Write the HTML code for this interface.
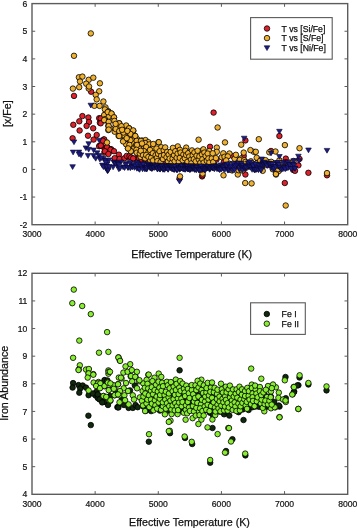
<!DOCTYPE html><html><head><meta charset="utf-8"><style>html,body{margin:0;padding:0;background:#fff;overflow:hidden}svg{display:block;will-change:transform}</style></head><body><svg width="357" height="528" viewBox="0 0 357 528"><style>.tk{font-family:"Liberation Sans",sans-serif;font-size:8.6px;fill:#111;stroke:#111;stroke-width:0.2px}.tt{font-family:"Liberation Sans",sans-serif;font-size:10.7px;fill:#111;stroke:#111;stroke-width:0.25px}.lg{font-family:"Liberation Sans",sans-serif;font-size:8.7px;fill:#111;stroke:#111;stroke-width:0.25px}.r{fill:#e0202a}.y{fill:#f0b030}.d{fill:#10280e}.l{fill:#88ee30}.r,.y,.d,.l{stroke:#000;stroke-width:0.8}.n{fill:#1c1c84;stroke:#060628;stroke-width:0.6}</style><rect width="357" height="528" fill="#fff"/><rect x="32.0" y="3.6" width="315.70" height="221.10" fill="none" stroke="#5c5c5c" stroke-width="1.4"/><path d="M95.14 224.7V221.5M95.14 3.6V6.800000000000001" stroke="#5c5c5c" stroke-width="1"/><path d="M158.28 224.7V221.5M158.28 3.6V6.800000000000001" stroke="#5c5c5c" stroke-width="1"/><path d="M221.42 224.7V221.5M221.42 3.6V6.800000000000001" stroke="#5c5c5c" stroke-width="1"/><path d="M284.56 224.7V221.5M284.56 3.6V6.800000000000001" stroke="#5c5c5c" stroke-width="1"/><path d="M32.0 31.24H35.2M347.7 31.24H344.5" stroke="#5c5c5c" stroke-width="1"/><path d="M32.0 58.88H35.2M347.7 58.88H344.5" stroke="#5c5c5c" stroke-width="1"/><path d="M32.0 86.51H35.2M347.7 86.51H344.5" stroke="#5c5c5c" stroke-width="1"/><path d="M32.0 114.15H35.2M347.7 114.15H344.5" stroke="#5c5c5c" stroke-width="1"/><path d="M32.0 141.79H35.2M347.7 141.79H344.5" stroke="#5c5c5c" stroke-width="1"/><path d="M32.0 169.42H35.2M347.7 169.42H344.5" stroke="#5c5c5c" stroke-width="1"/><path d="M32.0 197.06H35.2M347.7 197.06H344.5" stroke="#5c5c5c" stroke-width="1"/><text x="27.3" y="6.70" text-anchor="end" class="tk">6</text><text x="27.3" y="34.34" text-anchor="end" class="tk">5</text><text x="27.3" y="61.98" text-anchor="end" class="tk">4</text><text x="27.3" y="89.61" text-anchor="end" class="tk">3</text><text x="27.3" y="117.25" text-anchor="end" class="tk">2</text><text x="27.3" y="144.89" text-anchor="end" class="tk">1</text><text x="27.3" y="172.52" text-anchor="end" class="tk">0</text><text x="27.3" y="200.16" text-anchor="end" class="tk">-1</text><text x="27.3" y="227.80" text-anchor="end" class="tk">-2</text><text x="32.00" y="237.4" text-anchor="middle" class="tk">3000</text><text x="95.14" y="237.4" text-anchor="middle" class="tk">4000</text><text x="158.28" y="237.4" text-anchor="middle" class="tk">5000</text><text x="221.42" y="237.4" text-anchor="middle" class="tk">6000</text><text x="284.56" y="237.4" text-anchor="middle" class="tk">7000</text><text x="347.70" y="237.4" text-anchor="middle" class="tk">8000</text><text x="131.3" y="257.6" class="tt">Effective Temperature (K)</text><text transform="translate(10.5,113.6) rotate(-90)" text-anchor="middle" class="tt">[x/Fe]</text><rect x="32.0" y="273.3" width="315.70" height="221.00" fill="none" stroke="#5c5c5c" stroke-width="1.4"/><path d="M95.14 494.3V491.1M95.14 273.3V276.5" stroke="#5c5c5c" stroke-width="1"/><path d="M158.28 494.3V491.1M158.28 273.3V276.5" stroke="#5c5c5c" stroke-width="1"/><path d="M221.42 494.3V491.1M221.42 273.3V276.5" stroke="#5c5c5c" stroke-width="1"/><path d="M284.56 494.3V491.1M284.56 273.3V276.5" stroke="#5c5c5c" stroke-width="1"/><path d="M32.0 300.93H35.2M347.7 300.93H344.5" stroke="#5c5c5c" stroke-width="1"/><path d="M32.0 328.55H35.2M347.7 328.55H344.5" stroke="#5c5c5c" stroke-width="1"/><path d="M32.0 356.18H35.2M347.7 356.18H344.5" stroke="#5c5c5c" stroke-width="1"/><path d="M32.0 383.80H35.2M347.7 383.80H344.5" stroke="#5c5c5c" stroke-width="1"/><path d="M32.0 411.43H35.2M347.7 411.43H344.5" stroke="#5c5c5c" stroke-width="1"/><path d="M32.0 439.05H35.2M347.7 439.05H344.5" stroke="#5c5c5c" stroke-width="1"/><path d="M32.0 466.68H35.2M347.7 466.68H344.5" stroke="#5c5c5c" stroke-width="1"/><text x="27.3" y="276.40" text-anchor="end" class="tk">12</text><text x="27.3" y="304.03" text-anchor="end" class="tk">11</text><text x="27.3" y="331.65" text-anchor="end" class="tk">10</text><text x="27.3" y="359.28" text-anchor="end" class="tk">9</text><text x="27.3" y="386.90" text-anchor="end" class="tk">8</text><text x="27.3" y="414.53" text-anchor="end" class="tk">7</text><text x="27.3" y="442.15" text-anchor="end" class="tk">6</text><text x="27.3" y="469.78" text-anchor="end" class="tk">5</text><text x="27.3" y="497.40" text-anchor="end" class="tk">4</text><text x="32.00" y="507.0" text-anchor="middle" class="tk">3000</text><text x="95.14" y="507.0" text-anchor="middle" class="tk">4000</text><text x="158.28" y="507.0" text-anchor="middle" class="tk">5000</text><text x="221.42" y="507.0" text-anchor="middle" class="tk">6000</text><text x="284.56" y="507.0" text-anchor="middle" class="tk">7000</text><text x="347.70" y="507.0" text-anchor="middle" class="tk">8000</text><text x="129.1" y="525.7" class="tt">Effective Temperature (K)</text><text transform="translate(8.2,383.2) rotate(-90)" text-anchor="middle" class="tt">Iron Abundance</text><circle cx="99.6" cy="145.8" r="2.75" class="r"/><circle cx="103.8" cy="139.6" r="2.75" class="r"/><circle cx="106.8" cy="147.2" r="2.75" class="r"/><circle cx="110.0" cy="149.1" r="2.75" class="r"/><circle cx="104.9" cy="151.4" r="2.75" class="r"/><circle cx="108.8" cy="152.5" r="2.75" class="r"/><circle cx="74.0" cy="95.9" r="2.75" class="r"/><circle cx="91.1" cy="91.7" r="2.75" class="r"/><circle cx="82.4" cy="116.1" r="2.75" class="r"/><circle cx="88.4" cy="117.5" r="2.75" class="r"/><circle cx="79.3" cy="121.3" r="2.75" class="r"/><circle cx="89.0" cy="122.0" r="2.75" class="r"/><circle cx="99.2" cy="118.2" r="2.75" class="r"/><circle cx="99.9" cy="122.7" r="2.75" class="r"/><circle cx="73.3" cy="124.8" r="2.75" class="r"/><circle cx="86.6" cy="125.9" r="2.75" class="r"/><circle cx="93.2" cy="128.3" r="2.75" class="r"/><circle cx="79.6" cy="130.5" r="2.75" class="r"/><circle cx="88.0" cy="135.7" r="2.75" class="r"/><circle cx="96.7" cy="135.0" r="2.75" class="r"/><circle cx="72.6" cy="138.3" r="2.75" class="r"/><circle cx="93.6" cy="139.6" r="2.75" class="r"/><circle cx="99.2" cy="146.2" r="2.75" class="r"/><circle cx="104.5" cy="148.3" r="2.75" class="r"/><circle cx="106.9" cy="151.8" r="2.75" class="r"/><circle cx="104.5" cy="152.5" r="2.75" class="r"/><circle cx="100.7" cy="118.4" r="2.75" class="r"/><circle cx="100.7" cy="123.3" r="2.75" class="r"/><circle cx="104.2" cy="139.4" r="2.75" class="r"/><circle cx="101.4" cy="145.7" r="2.75" class="r"/><circle cx="107.0" cy="147.1" r="2.75" class="r"/><circle cx="111.2" cy="149.2" r="2.75" class="r"/><circle cx="102.8" cy="140.7" r="2.75" class="r"/><circle cx="100.7" cy="145.6" r="2.75" class="r"/><circle cx="107.0" cy="147.0" r="2.75" class="r"/><circle cx="110.5" cy="149.8" r="2.75" class="r"/><circle cx="114.0" cy="151.2" r="2.75" class="r"/><circle cx="104.9" cy="151.2" r="2.75" class="r"/><circle cx="108.4" cy="154.0" r="2.75" class="r"/><circle cx="118.9" cy="154.7" r="2.75" class="r"/><circle cx="114.7" cy="158.2" r="2.75" class="r"/><circle cx="119.6" cy="158.9" r="2.75" class="r"/><circle cx="124.5" cy="158.2" r="2.75" class="r"/><circle cx="128.7" cy="157.5" r="2.75" class="r"/><circle cx="133.6" cy="158.9" r="2.75" class="r"/><circle cx="137.1" cy="157.5" r="2.75" class="r"/><circle cx="140.6" cy="153.3" r="2.75" class="r"/><circle cx="144.8" cy="160.3" r="2.75" class="r"/><circle cx="148.3" cy="161.0" r="2.75" class="r"/><circle cx="150.0" cy="161.0" r="2.75" class="r"/><circle cx="189.9" cy="152.6" r="2.75" class="r"/><circle cx="179.5" cy="178.6" r="2.75" class="r"/><circle cx="202.1" cy="176.4" r="2.75" class="r"/><circle cx="213.6" cy="112.6" r="2.75" class="r"/><circle cx="210.0" cy="146.8" r="2.75" class="r"/><circle cx="245.4" cy="140.4" r="2.75" class="r"/><circle cx="232.8" cy="156.0" r="2.75" class="r"/><circle cx="243.7" cy="156.0" r="2.75" class="r"/><circle cx="202.5" cy="175.3" r="2.75" class="r"/><circle cx="245.4" cy="174.5" r="2.75" class="r"/><circle cx="279.4" cy="136.0" r="2.75" class="r"/><circle cx="271.0" cy="151.0" r="2.75" class="r"/><circle cx="285.8" cy="158.6" r="2.75" class="r"/><circle cx="299.5" cy="158.9" r="2.75" class="r"/><circle cx="298.4" cy="165.3" r="2.75" class="r"/><circle cx="286.1" cy="165.3" r="2.75" class="r"/><circle cx="293.3" cy="170.0" r="2.75" class="r"/><circle cx="308.4" cy="172.8" r="2.75" class="r"/><circle cx="327.0" cy="175.3" r="2.75" class="r"/><circle cx="284.8" cy="183.0" r="2.75" class="r"/><circle cx="295.0" cy="170.8" r="2.75" class="r"/><circle cx="126.7" cy="155.9" r="2.75" class="r"/><circle cx="129.5" cy="156.2" r="2.75" class="r"/><circle cx="131.1" cy="157.5" r="2.75" class="r"/><circle cx="133.2" cy="158.4" r="2.75" class="r"/><circle cx="138.9" cy="158.0" r="2.75" class="r"/><circle cx="139.1" cy="158.1" r="2.75" class="r"/><circle cx="141.6" cy="159.4" r="2.75" class="r"/><circle cx="144.1" cy="158.4" r="2.75" class="r"/><circle cx="150.8" cy="162.0" r="2.75" class="r"/><circle cx="151.6" cy="161.1" r="2.75" class="r"/><circle cx="155.0" cy="159.2" r="2.75" class="r"/><circle cx="157.5" cy="158.8" r="2.75" class="r"/><circle cx="162.7" cy="161.7" r="2.75" class="r"/><circle cx="169.7" cy="162.0" r="2.75" class="r"/><circle cx="172.4" cy="162.2" r="2.75" class="r"/><circle cx="173.5" cy="159.7" r="2.75" class="r"/><circle cx="174.1" cy="162.7" r="2.75" class="r"/><circle cx="175.2" cy="160.8" r="2.75" class="r"/><circle cx="177.4" cy="161.6" r="2.75" class="r"/><circle cx="181.4" cy="160.7" r="2.75" class="r"/><circle cx="184.2" cy="160.1" r="2.75" class="r"/><circle cx="185.5" cy="162.0" r="2.75" class="r"/><circle cx="186.0" cy="161.1" r="2.75" class="r"/><circle cx="194.9" cy="163.0" r="2.75" class="r"/><circle cx="199.6" cy="159.5" r="2.75" class="r"/><circle cx="200.2" cy="160.0" r="2.75" class="r"/><circle cx="202.0" cy="160.0" r="2.75" class="r"/><circle cx="203.4" cy="159.4" r="2.75" class="r"/><circle cx="206.3" cy="161.0" r="2.75" class="r"/><circle cx="208.8" cy="164.3" r="2.75" class="r"/><circle cx="211.1" cy="161.1" r="2.75" class="r"/><circle cx="214.0" cy="164.2" r="2.75" class="r"/><circle cx="216.5" cy="159.6" r="2.75" class="r"/><circle cx="223.8" cy="162.2" r="2.75" class="r"/><circle cx="236.0" cy="161.1" r="2.75" class="r"/><circle cx="247.2" cy="163.0" r="2.75" class="r"/><circle cx="253.7" cy="164.5" r="2.75" class="r"/><circle cx="257.8" cy="161.7" r="2.75" class="r"/><circle cx="264.1" cy="160.9" r="2.75" class="r"/><circle cx="267.8" cy="165.1" r="2.75" class="r"/><circle cx="271.0" cy="165.1" r="2.75" class="r"/><circle cx="285.9" cy="162.2" r="2.75" class="r"/><circle cx="90.8" cy="33.4" r="2.75" class="y"/><circle cx="74.0" cy="55.8" r="2.75" class="y"/><circle cx="78.9" cy="77.3" r="2.75" class="y"/><circle cx="82.4" cy="76.6" r="2.75" class="y"/><circle cx="80.0" cy="81.5" r="2.75" class="y"/><circle cx="88.7" cy="79.8" r="2.75" class="y"/><circle cx="93.3" cy="77.7" r="2.75" class="y"/><circle cx="86.2" cy="83.7" r="2.75" class="y"/><circle cx="99.9" cy="83.3" r="2.75" class="y"/><circle cx="79.2" cy="87.2" r="2.75" class="y"/><circle cx="72.9" cy="88.6" r="2.75" class="y"/><circle cx="88.7" cy="88.5" r="2.75" class="y"/><circle cx="89.0" cy="86.5" r="2.75" class="y"/><circle cx="99.2" cy="91.3" r="2.75" class="y"/><circle cx="95.7" cy="94.9" r="2.75" class="y"/><circle cx="96.7" cy="99.4" r="2.75" class="y"/><circle cx="103.4" cy="101.5" r="2.75" class="y"/><circle cx="94.4" cy="105.8" r="2.75" class="y"/><circle cx="99.6" cy="105.9" r="2.75" class="y"/><circle cx="105.5" cy="107.4" r="2.75" class="y"/><circle cx="108.3" cy="111.2" r="2.75" class="y"/><circle cx="104.8" cy="115.1" r="2.75" class="y"/><circle cx="108.3" cy="116.1" r="2.75" class="y"/><circle cx="104.8" cy="120.3" r="2.75" class="y"/><circle cx="108.3" cy="121.7" r="2.75" class="y"/><circle cx="108.3" cy="125.9" r="2.75" class="y"/><circle cx="108.3" cy="130.1" r="2.75" class="y"/><circle cx="104.9" cy="109.4" r="2.75" class="y"/><circle cx="108.0" cy="111.9" r="2.75" class="y"/><circle cx="111.5" cy="113.6" r="2.75" class="y"/><circle cx="104.2" cy="115.0" r="2.75" class="y"/><circle cx="108.7" cy="116.7" r="2.75" class="y"/><circle cx="114.0" cy="117.5" r="2.75" class="y"/><circle cx="104.9" cy="119.2" r="2.75" class="y"/><circle cx="107.7" cy="112.1" r="2.75" class="y"/><circle cx="111.5" cy="113.5" r="2.75" class="y"/><circle cx="114.0" cy="117.3" r="2.75" class="y"/><circle cx="104.2" cy="120.1" r="2.75" class="y"/><circle cx="108.7" cy="121.9" r="2.75" class="y"/><circle cx="119.3" cy="123.3" r="2.75" class="y"/><circle cx="108.7" cy="126.1" r="2.75" class="y"/><circle cx="108.7" cy="129.6" r="2.75" class="y"/><circle cx="114.7" cy="127.9" r="2.75" class="y"/><circle cx="118.2" cy="128.2" r="2.75" class="y"/><circle cx="125.9" cy="126.5" r="2.75" class="y"/><circle cx="129.1" cy="128.2" r="2.75" class="y"/><circle cx="114.7" cy="131.7" r="2.75" class="y"/><circle cx="119.6" cy="131.7" r="2.75" class="y"/><circle cx="123.8" cy="132.4" r="2.75" class="y"/><circle cx="133.3" cy="131.0" r="2.75" class="y"/><circle cx="118.6" cy="135.9" r="2.75" class="y"/><circle cx="124.5" cy="135.9" r="2.75" class="y"/><circle cx="130.1" cy="135.2" r="2.75" class="y"/><circle cx="135.0" cy="135.9" r="2.75" class="y"/><circle cx="123.8" cy="140.8" r="2.75" class="y"/><circle cx="130.1" cy="140.1" r="2.75" class="y"/><circle cx="133.6" cy="139.4" r="2.75" class="y"/><circle cx="137.1" cy="139.1" r="2.75" class="y"/><circle cx="142.0" cy="140.5" r="2.75" class="y"/><circle cx="145.5" cy="140.1" r="2.75" class="y"/><circle cx="126.6" cy="144.3" r="2.75" class="y"/><circle cx="130.1" cy="144.7" r="2.75" class="y"/><circle cx="133.6" cy="143.6" r="2.75" class="y"/><circle cx="137.1" cy="145.7" r="2.75" class="y"/><circle cx="141.3" cy="143.6" r="2.75" class="y"/><circle cx="144.8" cy="143.6" r="2.75" class="y"/><circle cx="148.3" cy="142.2" r="2.75" class="y"/><circle cx="128.0" cy="148.5" r="2.75" class="y"/><circle cx="133.6" cy="148.5" r="2.75" class="y"/><circle cx="139.2" cy="147.8" r="2.75" class="y"/><circle cx="143.4" cy="148.5" r="2.75" class="y"/><circle cx="148.3" cy="147.1" r="2.75" class="y"/><circle cx="107.0" cy="142.5" r="2.75" class="y"/><circle cx="119.2" cy="123.4" r="2.75" class="y"/><circle cx="126.2" cy="125.5" r="2.75" class="y"/><circle cx="129.0" cy="128.3" r="2.75" class="y"/><circle cx="133.2" cy="130.4" r="2.75" class="y"/><circle cx="115.7" cy="129.0" r="2.75" class="y"/><circle cx="119.2" cy="131.1" r="2.75" class="y"/><circle cx="123.4" cy="132.5" r="2.75" class="y"/><circle cx="119.2" cy="136.0" r="2.75" class="y"/><circle cx="130.4" cy="133.9" r="2.75" class="y"/><circle cx="135.3" cy="136.0" r="2.75" class="y"/><circle cx="123.4" cy="140.9" r="2.75" class="y"/><circle cx="130.4" cy="140.2" r="2.75" class="y"/><circle cx="136.7" cy="140.9" r="2.75" class="y"/><circle cx="140.9" cy="140.9" r="2.75" class="y"/><circle cx="145.1" cy="143.0" r="2.75" class="y"/><circle cx="149.3" cy="144.4" r="2.75" class="y"/><circle cx="158.4" cy="142.3" r="2.75" class="y"/><circle cx="126.2" cy="144.4" r="2.75" class="y"/><circle cx="129.0" cy="147.9" r="2.75" class="y"/><circle cx="136.0" cy="145.1" r="2.75" class="y"/><circle cx="138.8" cy="147.9" r="2.75" class="y"/><circle cx="143.7" cy="150.7" r="2.75" class="y"/><circle cx="152.8" cy="147.9" r="2.75" class="y"/><circle cx="161.2" cy="147.2" r="2.75" class="y"/><circle cx="131.1" cy="151.4" r="2.75" class="y"/><circle cx="155.6" cy="152.1" r="2.75" class="y"/><circle cx="150.0" cy="152.8" r="2.75" class="y"/><circle cx="123.1" cy="141.4" r="2.75" class="y"/><circle cx="129.4" cy="144.9" r="2.75" class="y"/><circle cx="137.1" cy="144.9" r="2.75" class="y"/><circle cx="142.0" cy="143.5" r="2.75" class="y"/><circle cx="146.2" cy="147.0" r="2.75" class="y"/><circle cx="130.8" cy="151.2" r="2.75" class="y"/><circle cx="136.4" cy="149.8" r="2.75" class="y"/><circle cx="144.1" cy="151.2" r="2.75" class="y"/><circle cx="140.6" cy="156.8" r="2.75" class="y"/><circle cx="128.0" cy="148.4" r="2.75" class="y"/><circle cx="148.3" cy="152.6" r="2.75" class="y"/><circle cx="158.8" cy="142.2" r="2.75" class="y"/><circle cx="177.8" cy="146.4" r="2.75" class="y"/><circle cx="186.2" cy="147.6" r="2.75" class="y"/><circle cx="198.6" cy="139.7" r="2.75" class="y"/><circle cx="203.0" cy="150.0" r="2.75" class="y"/><circle cx="217.6" cy="127.5" r="2.75" class="y"/><circle cx="225.0" cy="142.4" r="2.75" class="y"/><circle cx="241.2" cy="144.7" r="2.75" class="y"/><circle cx="258.8" cy="139.2" r="2.75" class="y"/><circle cx="216.8" cy="147.6" r="2.75" class="y"/><circle cx="216.8" cy="151.8" r="2.75" class="y"/><circle cx="203.4" cy="149.3" r="2.75" class="y"/><circle cx="209.2" cy="151.0" r="2.75" class="y"/><circle cx="229.4" cy="153.5" r="2.75" class="y"/><circle cx="243.7" cy="152.6" r="2.75" class="y"/><circle cx="253.8" cy="151.8" r="2.75" class="y"/><circle cx="250.4" cy="150.1" r="2.75" class="y"/><circle cx="223.5" cy="175.3" r="2.75" class="y"/><circle cx="237.8" cy="174.5" r="2.75" class="y"/><circle cx="245.2" cy="183.0" r="2.75" class="y"/><circle cx="251.6" cy="183.4" r="2.75" class="y"/><circle cx="284.9" cy="145.1" r="2.75" class="y"/><circle cx="299.5" cy="148.2" r="2.75" class="y"/><circle cx="255.8" cy="151.8" r="2.75" class="y"/><circle cx="275.5" cy="151.5" r="2.75" class="y"/><circle cx="279.4" cy="160.3" r="2.75" class="y"/><circle cx="281.9" cy="165.3" r="2.75" class="y"/><circle cx="276.0" cy="174.5" r="2.75" class="y"/><circle cx="278.5" cy="171.2" r="2.75" class="y"/><circle cx="256.7" cy="157.7" r="2.75" class="y"/><circle cx="327.0" cy="173.1" r="2.75" class="y"/><circle cx="202.6" cy="173.5" r="2.75" class="y"/><circle cx="285.7" cy="205.5" r="2.75" class="y"/><circle cx="180.0" cy="176.4" r="2.75" class="y"/><circle cx="275.9" cy="174.0" r="2.75" class="y"/><circle cx="114.4" cy="120.9" r="2.75" class="y"/><circle cx="115.6" cy="123.9" r="2.75" class="y"/><circle cx="121.4" cy="126.2" r="2.75" class="y"/><circle cx="122.1" cy="129.8" r="2.75" class="y"/><circle cx="126.7" cy="138.2" r="2.75" class="y"/><circle cx="127.3" cy="130.9" r="2.75" class="y"/><circle cx="136.7" cy="152.7" r="2.75" class="y"/><circle cx="139.8" cy="153.5" r="2.75" class="y"/><circle cx="140.8" cy="150.8" r="2.75" class="y"/><circle cx="143.0" cy="155.2" r="2.75" class="y"/><circle cx="145.2" cy="158.3" r="2.75" class="y"/><circle cx="146.2" cy="155.1" r="2.75" class="y"/><circle cx="148.4" cy="156.9" r="2.75" class="y"/><circle cx="150.0" cy="149.9" r="2.75" class="y"/><circle cx="150.3" cy="160.7" r="2.75" class="y"/><circle cx="151.2" cy="157.7" r="2.75" class="y"/><circle cx="152.8" cy="153.3" r="2.75" class="y"/><circle cx="153.2" cy="144.0" r="2.75" class="y"/><circle cx="153.1" cy="160.4" r="2.75" class="y"/><circle cx="155.6" cy="155.2" r="2.75" class="y"/><circle cx="156.5" cy="148.5" r="2.75" class="y"/><circle cx="156.8" cy="158.0" r="2.75" class="y"/><circle cx="157.4" cy="161.1" r="2.75" class="y"/><circle cx="158.1" cy="153.9" r="2.75" class="y"/><circle cx="159.6" cy="151.3" r="2.75" class="y"/><circle cx="160.6" cy="162.1" r="2.75" class="y"/><circle cx="161.1" cy="155.9" r="2.75" class="y"/><circle cx="162.9" cy="159.0" r="2.75" class="y"/><circle cx="163.7" cy="150.2" r="2.75" class="y"/><circle cx="164.0" cy="155.0" r="2.75" class="y"/><circle cx="165.2" cy="147.4" r="2.75" class="y"/><circle cx="166.5" cy="157.2" r="2.75" class="y"/><circle cx="167.2" cy="151.9" r="2.75" class="y"/><circle cx="168.0" cy="161.5" r="2.75" class="y"/><circle cx="168.7" cy="154.7" r="2.75" class="y"/><circle cx="169.7" cy="158.6" r="2.75" class="y"/><circle cx="170.7" cy="151.8" r="2.75" class="y"/><circle cx="171.6" cy="162.9" r="2.75" class="y"/><circle cx="172.9" cy="147.9" r="2.75" class="y"/><circle cx="172.6" cy="158.6" r="2.75" class="y"/><circle cx="174.0" cy="155.2" r="2.75" class="y"/><circle cx="174.7" cy="161.3" r="2.75" class="y"/><circle cx="175.3" cy="151.2" r="2.75" class="y"/><circle cx="176.7" cy="157.8" r="2.75" class="y"/><circle cx="177.6" cy="153.6" r="2.75" class="y"/><circle cx="178.8" cy="161.8" r="2.75" class="y"/><circle cx="179.9" cy="149.8" r="2.75" class="y"/><circle cx="179.8" cy="157.9" r="2.75" class="y"/><circle cx="180.6" cy="152.6" r="2.75" class="y"/><circle cx="182.7" cy="160.3" r="2.75" class="y"/><circle cx="183.4" cy="154.5" r="2.75" class="y"/><circle cx="184.8" cy="158.2" r="2.75" class="y"/><circle cx="185.3" cy="150.8" r="2.75" class="y"/><circle cx="186.2" cy="155.1" r="2.75" class="y"/><circle cx="187.5" cy="161.8" r="2.75" class="y"/><circle cx="188.2" cy="153.2" r="2.75" class="y"/><circle cx="189.3" cy="156.5" r="2.75" class="y"/><circle cx="191.0" cy="159.5" r="2.75" class="y"/><circle cx="192.0" cy="150.4" r="2.75" class="y"/><circle cx="191.4" cy="163.3" r="2.75" class="y"/><circle cx="192.7" cy="155.3" r="2.75" class="y"/><circle cx="193.8" cy="159.1" r="2.75" class="y"/><circle cx="194.4" cy="152.4" r="2.75" class="y"/><circle cx="195.7" cy="161.4" r="2.75" class="y"/><circle cx="196.6" cy="155.7" r="2.75" class="y"/><circle cx="197.6" cy="150.7" r="2.75" class="y"/><circle cx="198.8" cy="159.5" r="2.75" class="y"/><circle cx="199.4" cy="156.3" r="2.75" class="y"/><circle cx="200.4" cy="162.8" r="2.75" class="y"/><circle cx="202.0" cy="154.5" r="2.75" class="y"/><circle cx="202.4" cy="159.3" r="2.75" class="y"/><circle cx="203.7" cy="162.6" r="2.75" class="y"/><circle cx="204.4" cy="152.6" r="2.75" class="y"/><circle cx="205.6" cy="156.1" r="2.75" class="y"/><circle cx="206.8" cy="160.9" r="2.75" class="y"/><circle cx="207.7" cy="153.6" r="2.75" class="y"/><circle cx="208.4" cy="158.5" r="2.75" class="y"/><circle cx="209.4" cy="162.5" r="2.75" class="y"/><circle cx="211.8" cy="158.4" r="2.75" class="y"/><circle cx="212.7" cy="153.3" r="2.75" class="y"/><circle cx="213.2" cy="162.1" r="2.75" class="y"/><circle cx="215.9" cy="158.1" r="2.75" class="y"/><circle cx="221.7" cy="157.2" r="2.75" class="y"/><circle cx="223.3" cy="153.3" r="2.75" class="y"/><circle cx="224.5" cy="156.8" r="2.75" class="y"/><circle cx="227.8" cy="156.4" r="2.75" class="y"/><circle cx="234.6" cy="158.7" r="2.75" class="y"/><circle cx="235.9" cy="154.8" r="2.75" class="y"/><circle cx="240.7" cy="158.6" r="2.75" class="y"/><circle cx="267.7" cy="162.0" r="2.75" class="y"/><circle cx="269.3" cy="152.3" r="2.75" class="y"/><circle cx="288.8" cy="163.7" r="2.75" class="y"/><circle cx="226.2" cy="160.4" r="2.75" class="y"/><circle cx="228.9" cy="168.0" r="2.75" class="y"/><circle cx="229.7" cy="163.8" r="2.75" class="y"/><circle cx="232.1" cy="170.4" r="2.75" class="y"/><circle cx="233.9" cy="167.4" r="2.75" class="y"/><circle cx="237.1" cy="167.5" r="2.75" class="y"/><circle cx="238.5" cy="170.2" r="2.75" class="y"/><circle cx="239.8" cy="159.9" r="2.75" class="y"/><circle cx="242.5" cy="170.6" r="2.75" class="y"/><circle cx="244.2" cy="160.2" r="2.75" class="y"/><circle cx="245.4" cy="161.9" r="2.75" class="y"/><circle cx="246.1" cy="167.7" r="2.75" class="y"/><circle cx="248.2" cy="165.5" r="2.75" class="y"/><circle cx="249.9" cy="163.7" r="2.75" class="y"/><circle cx="250.9" cy="161.3" r="2.75" class="y"/><circle cx="252.8" cy="165.9" r="2.75" class="y"/><circle cx="254.7" cy="166.5" r="2.75" class="y"/><circle cx="255.8" cy="169.1" r="2.75" class="y"/><circle cx="256.3" cy="163.9" r="2.75" class="y"/><circle cx="257.1" cy="163.0" r="2.75" class="y"/><circle cx="258.7" cy="164.9" r="2.75" class="y"/><circle cx="259.3" cy="165.1" r="2.75" class="y"/><circle cx="260.2" cy="160.8" r="2.75" class="y"/><circle cx="262.0" cy="168.3" r="2.75" class="y"/><circle cx="262.7" cy="170.8" r="2.75" class="y"/><circle cx="264.5" cy="164.8" r="2.75" class="y"/><circle cx="265.5" cy="160.2" r="2.75" class="y"/><circle cx="271.2" cy="161.8" r="2.75" class="y"/><circle cx="272.8" cy="169.3" r="2.75" class="y"/><circle cx="273.2" cy="167.2" r="2.75" class="y"/><circle cx="276.8" cy="169.2" r="2.75" class="y"/><circle cx="278.2" cy="169.2" r="2.75" class="y"/><circle cx="279.4" cy="166.3" r="2.75" class="y"/><circle cx="280.8" cy="163.1" r="2.75" class="y"/><circle cx="281.6" cy="167.1" r="2.75" class="y"/><circle cx="288.3" cy="166.7" r="2.75" class="y"/><circle cx="289.7" cy="162.5" r="2.75" class="y"/><circle cx="292.0" cy="165.3" r="2.75" class="y"/><circle cx="293.7" cy="161.0" r="2.75" class="y"/><path d="M88.0 103.2h5.6l-2.8 4.8z" class="n"/><path d="M71.2 139.9h5.6l-2.8 4.8z" class="n"/><path d="M85.9 141.7h5.6l-2.8 4.8z" class="n"/><path d="M70.3 150.1h5.6l-2.8 4.8z" class="n"/><path d="M76.1 150.1h5.6l-2.8 4.8z" class="n"/><path d="M78.2 152.9h5.6l-2.8 4.8z" class="n"/><path d="M83.1 145.9h5.6l-2.8 4.8z" class="n"/><path d="M85.9 147.3h5.6l-2.8 4.8z" class="n"/><path d="M90.8 148.0h5.6l-2.8 4.8z" class="n"/><path d="M85.2 153.6h5.6l-2.8 4.8z" class="n"/><path d="M90.8 153.6h5.6l-2.8 4.8z" class="n"/><path d="M94.3 150.8h5.6l-2.8 4.8z" class="n"/><path d="M96.4 153.6h5.6l-2.8 4.8z" class="n"/><path d="M92.9 156.4h5.6l-2.8 4.8z" class="n"/><path d="M97.1 157.1h5.6l-2.8 4.8z" class="n"/><path d="M100.6 156.4h5.6l-2.8 4.8z" class="n"/><path d="M103.4 158.5h5.6l-2.8 4.8z" class="n"/><path d="M69.8 164.7h5.6l-2.8 4.8z" class="n"/><path d="M103.4 166.2h5.6l-2.8 4.8z" class="n"/><path d="M104.8 169.0h5.6l-2.8 4.8z" class="n"/><path d="M96.4 138.2h5.6l-2.8 4.8z" class="n"/><path d="M76.2 152.1h5.6l-2.8 4.8z" class="n"/><path d="M104.6 168.2h5.6l-2.8 4.8z" class="n"/><path d="M98.6 155.8h5.6l-2.8 4.8z" class="n"/><path d="M102.8 158.6h5.6l-2.8 4.8z" class="n"/><path d="M106.3 157.9h5.6l-2.8 4.8z" class="n"/><path d="M104.2 162.1h5.6l-2.8 4.8z" class="n"/><path d="M103.5 166.3h5.6l-2.8 4.8z" class="n"/><path d="M105.6 167.7h5.6l-2.8 4.8z" class="n"/><path d="M111.2 160.0h5.6l-2.8 4.8z" class="n"/><path d="M114.0 162.8h5.6l-2.8 4.8z" class="n"/><path d="M116.1 167.0h5.6l-2.8 4.8z" class="n"/><path d="M118.2 160.0h5.6l-2.8 4.8z" class="n"/><path d="M120.3 164.9h5.6l-2.8 4.8z" class="n"/><path d="M123.1 161.4h5.6l-2.8 4.8z" class="n"/><path d="M125.2 165.6h5.6l-2.8 4.8z" class="n"/><path d="M127.3 160.7h5.6l-2.8 4.8z" class="n"/><path d="M130.8 163.5h5.6l-2.8 4.8z" class="n"/><path d="M134.3 160.7h5.6l-2.8 4.8z" class="n"/><path d="M135.0 165.6h5.6l-2.8 4.8z" class="n"/><path d="M139.2 162.1h5.6l-2.8 4.8z" class="n"/><path d="M142.0 165.6h5.6l-2.8 4.8z" class="n"/><path d="M145.5 162.1h5.6l-2.8 4.8z" class="n"/><path d="M176.7 179.2h5.6l-2.8 4.8z" class="n"/><path d="M241.4 136.2h5.6l-2.8 4.8z" class="n"/><path d="M276.6 129.3h5.6l-2.8 4.8z" class="n"/><path d="M268.2 151.1h5.6l-2.8 4.8z" class="n"/><path d="M276.6 154.5h5.6l-2.8 4.8z" class="n"/><path d="M295.6 154.2h5.6l-2.8 4.8z" class="n"/><path d="M296.2 158.7h5.6l-2.8 4.8z" class="n"/><path d="M290.9 158.7h5.6l-2.8 4.8z" class="n"/><path d="M283.3 166.3h5.6l-2.8 4.8z" class="n"/><path d="M290.0 166.6h5.6l-2.8 4.8z" class="n"/><path d="M305.7 148.0h5.6l-2.8 4.8z" class="n"/><path d="M324.2 148.4h5.6l-2.8 4.8z" class="n"/><path d="M258.9 157.0h5.6l-2.8 4.8z" class="n"/><path d="M99.5 163.1h5.6l-2.8 4.8z" class="n"/><path d="M100.6 164.8h5.6l-2.8 4.8z" class="n"/><path d="M102.8 160.2h5.6l-2.8 4.8z" class="n"/><path d="M104.0 164.4h5.6l-2.8 4.8z" class="n"/><path d="M106.6 164.6h5.6l-2.8 4.8z" class="n"/><path d="M110.3 165.0h5.6l-2.8 4.8z" class="n"/><path d="M111.4 160.6h5.6l-2.8 4.8z" class="n"/><path d="M112.9 161.4h5.6l-2.8 4.8z" class="n"/><path d="M115.1 161.6h5.6l-2.8 4.8z" class="n"/><path d="M115.9 162.4h5.6l-2.8 4.8z" class="n"/><path d="M117.3 166.1h5.6l-2.8 4.8z" class="n"/><path d="M121.8 165.7h5.6l-2.8 4.8z" class="n"/><path d="M123.1 162.8h5.6l-2.8 4.8z" class="n"/><path d="M125.2 165.4h5.6l-2.8 4.8z" class="n"/><path d="M127.5 165.9h5.6l-2.8 4.8z" class="n"/><path d="M129.1 164.5h5.6l-2.8 4.8z" class="n"/><path d="M129.6 165.0h5.6l-2.8 4.8z" class="n"/><path d="M130.9 162.5h5.6l-2.8 4.8z" class="n"/><path d="M131.6 165.5h5.6l-2.8 4.8z" class="n"/><path d="M132.6 164.0h5.6l-2.8 4.8z" class="n"/><path d="M134.1 166.4h5.6l-2.8 4.8z" class="n"/><path d="M134.5 162.2h5.6l-2.8 4.8z" class="n"/><path d="M135.9 166.6h5.6l-2.8 4.8z" class="n"/><path d="M136.8 167.5h5.6l-2.8 4.8z" class="n"/><path d="M137.8 163.8h5.6l-2.8 4.8z" class="n"/><path d="M139.1 164.2h5.6l-2.8 4.8z" class="n"/><path d="M139.8 167.0h5.6l-2.8 4.8z" class="n"/><path d="M140.5 162.2h5.6l-2.8 4.8z" class="n"/><path d="M141.6 165.4h5.6l-2.8 4.8z" class="n"/><path d="M142.0 167.0h5.6l-2.8 4.8z" class="n"/><path d="M143.0 166.6h5.6l-2.8 4.8z" class="n"/><path d="M143.1 165.4h5.6l-2.8 4.8z" class="n"/><path d="M144.1 166.6h5.6l-2.8 4.8z" class="n"/><path d="M143.9 167.2h5.6l-2.8 4.8z" class="n"/><path d="M144.3 165.3h5.6l-2.8 4.8z" class="n"/><path d="M145.0 163.5h5.6l-2.8 4.8z" class="n"/><path d="M146.1 163.7h5.6l-2.8 4.8z" class="n"/><path d="M146.9 164.9h5.6l-2.8 4.8z" class="n"/><path d="M147.5 166.2h5.6l-2.8 4.8z" class="n"/><path d="M148.0 164.9h5.6l-2.8 4.8z" class="n"/><path d="M149.0 166.3h5.6l-2.8 4.8z" class="n"/><path d="M148.4 165.5h5.6l-2.8 4.8z" class="n"/><path d="M149.1 166.8h5.6l-2.8 4.8z" class="n"/><path d="M149.7 165.5h5.6l-2.8 4.8z" class="n"/><path d="M149.4 163.8h5.6l-2.8 4.8z" class="n"/><path d="M150.9 164.6h5.6l-2.8 4.8z" class="n"/><path d="M150.8 164.7h5.6l-2.8 4.8z" class="n"/><path d="M150.7 163.6h5.6l-2.8 4.8z" class="n"/><path d="M152.2 164.6h5.6l-2.8 4.8z" class="n"/><path d="M151.3 165.8h5.6l-2.8 4.8z" class="n"/><path d="M152.0 163.7h5.6l-2.8 4.8z" class="n"/><path d="M152.5 165.3h5.6l-2.8 4.8z" class="n"/><path d="M152.2 163.1h5.6l-2.8 4.8z" class="n"/><path d="M154.1 165.2h5.6l-2.8 4.8z" class="n"/><path d="M153.8 164.2h5.6l-2.8 4.8z" class="n"/><path d="M154.6 167.2h5.6l-2.8 4.8z" class="n"/><path d="M155.0 166.7h5.6l-2.8 4.8z" class="n"/><path d="M155.5 163.2h5.6l-2.8 4.8z" class="n"/><path d="M155.4 163.9h5.6l-2.8 4.8z" class="n"/><path d="M156.3 165.5h5.6l-2.8 4.8z" class="n"/><path d="M157.1 165.1h5.6l-2.8 4.8z" class="n"/><path d="M157.1 167.1h5.6l-2.8 4.8z" class="n"/><path d="M157.8 164.9h5.6l-2.8 4.8z" class="n"/><path d="M157.3 167.3h5.6l-2.8 4.8z" class="n"/><path d="M157.5 165.6h5.6l-2.8 4.8z" class="n"/><path d="M159.2 166.1h5.6l-2.8 4.8z" class="n"/><path d="M158.6 165.1h5.6l-2.8 4.8z" class="n"/><path d="M160.2 167.5h5.6l-2.8 4.8z" class="n"/><path d="M159.4 163.3h5.6l-2.8 4.8z" class="n"/><path d="M159.5 164.7h5.6l-2.8 4.8z" class="n"/><path d="M161.1 166.9h5.6l-2.8 4.8z" class="n"/><path d="M160.2 166.6h5.6l-2.8 4.8z" class="n"/><path d="M161.8 167.5h5.6l-2.8 4.8z" class="n"/><path d="M161.3 163.8h5.6l-2.8 4.8z" class="n"/><path d="M163.1 166.2h5.6l-2.8 4.8z" class="n"/><path d="M162.5 165.8h5.6l-2.8 4.8z" class="n"/><path d="M163.3 164.6h5.6l-2.8 4.8z" class="n"/><path d="M163.5 163.8h5.6l-2.8 4.8z" class="n"/><path d="M164.4 164.3h5.6l-2.8 4.8z" class="n"/><path d="M164.3 166.2h5.6l-2.8 4.8z" class="n"/><path d="M165.9 164.1h5.6l-2.8 4.8z" class="n"/><path d="M165.2 167.3h5.6l-2.8 4.8z" class="n"/><path d="M165.4 167.4h5.6l-2.8 4.8z" class="n"/><path d="M167.1 163.9h5.6l-2.8 4.8z" class="n"/><path d="M166.6 163.7h5.6l-2.8 4.8z" class="n"/><path d="M168.0 166.1h5.6l-2.8 4.8z" class="n"/><path d="M167.7 164.8h5.6l-2.8 4.8z" class="n"/><path d="M168.7 166.1h5.6l-2.8 4.8z" class="n"/><path d="M168.3 164.3h5.6l-2.8 4.8z" class="n"/><path d="M169.9 165.8h5.6l-2.8 4.8z" class="n"/><path d="M169.3 167.2h5.6l-2.8 4.8z" class="n"/><path d="M169.5 165.2h5.6l-2.8 4.8z" class="n"/><path d="M170.5 167.1h5.6l-2.8 4.8z" class="n"/><path d="M170.5 164.1h5.6l-2.8 4.8z" class="n"/><path d="M171.5 167.4h5.6l-2.8 4.8z" class="n"/><path d="M171.3 167.7h5.6l-2.8 4.8z" class="n"/><path d="M173.1 166.4h5.6l-2.8 4.8z" class="n"/><path d="M172.4 165.5h5.6l-2.8 4.8z" class="n"/><path d="M172.5 164.5h5.6l-2.8 4.8z" class="n"/><path d="M173.6 167.8h5.6l-2.8 4.8z" class="n"/><path d="M174.2 167.5h5.6l-2.8 4.8z" class="n"/><path d="M174.5 167.4h5.6l-2.8 4.8z" class="n"/><path d="M174.3 166.6h5.6l-2.8 4.8z" class="n"/><path d="M174.5 167.8h5.6l-2.8 4.8z" class="n"/><path d="M176.0 165.0h5.6l-2.8 4.8z" class="n"/><path d="M175.3 163.5h5.6l-2.8 4.8z" class="n"/><path d="M176.0 165.8h5.6l-2.8 4.8z" class="n"/><path d="M176.6 167.5h5.6l-2.8 4.8z" class="n"/><path d="M176.4 166.0h5.6l-2.8 4.8z" class="n"/><path d="M177.4 166.9h5.6l-2.8 4.8z" class="n"/><path d="M177.9 164.4h5.6l-2.8 4.8z" class="n"/><path d="M178.3 166.2h5.6l-2.8 4.8z" class="n"/><path d="M178.7 164.7h5.6l-2.8 4.8z" class="n"/><path d="M178.4 166.2h5.6l-2.8 4.8z" class="n"/><path d="M180.0 166.1h5.6l-2.8 4.8z" class="n"/><path d="M179.4 163.8h5.6l-2.8 4.8z" class="n"/><path d="M180.6 166.7h5.6l-2.8 4.8z" class="n"/><path d="M180.3 167.1h5.6l-2.8 4.8z" class="n"/><path d="M182.0 167.4h5.6l-2.8 4.8z" class="n"/><path d="M181.7 163.7h5.6l-2.8 4.8z" class="n"/><path d="M182.7 167.4h5.6l-2.8 4.8z" class="n"/><path d="M182.5 164.4h5.6l-2.8 4.8z" class="n"/><path d="M183.6 164.3h5.6l-2.8 4.8z" class="n"/><path d="M183.6 166.2h5.6l-2.8 4.8z" class="n"/><path d="M184.7 165.6h5.6l-2.8 4.8z" class="n"/><path d="M184.7 164.2h5.6l-2.8 4.8z" class="n"/><path d="M184.9 167.2h5.6l-2.8 4.8z" class="n"/><path d="M185.5 166.8h5.6l-2.8 4.8z" class="n"/><path d="M185.6 167.0h5.6l-2.8 4.8z" class="n"/><path d="M187.1 167.9h5.6l-2.8 4.8z" class="n"/><path d="M186.7 165.9h5.6l-2.8 4.8z" class="n"/><path d="M186.7 166.1h5.6l-2.8 4.8z" class="n"/><path d="M188.2 164.7h5.6l-2.8 4.8z" class="n"/><path d="M187.4 164.2h5.6l-2.8 4.8z" class="n"/><path d="M187.5 167.3h5.6l-2.8 4.8z" class="n"/><path d="M188.3 166.8h5.6l-2.8 4.8z" class="n"/><path d="M188.4 163.8h5.6l-2.8 4.8z" class="n"/><path d="M188.8 166.3h5.6l-2.8 4.8z" class="n"/><path d="M189.9 164.2h5.6l-2.8 4.8z" class="n"/><path d="M190.1 166.9h5.6l-2.8 4.8z" class="n"/><path d="M190.3 165.9h5.6l-2.8 4.8z" class="n"/><path d="M190.7 165.0h5.6l-2.8 4.8z" class="n"/><path d="M190.3 165.5h5.6l-2.8 4.8z" class="n"/><path d="M191.8 167.6h5.6l-2.8 4.8z" class="n"/><path d="M191.3 166.3h5.6l-2.8 4.8z" class="n"/><path d="M192.4 167.4h5.6l-2.8 4.8z" class="n"/><path d="M193.1 165.5h5.6l-2.8 4.8z" class="n"/><path d="M194.0 166.1h5.6l-2.8 4.8z" class="n"/><path d="M193.6 168.0h5.6l-2.8 4.8z" class="n"/><path d="M194.5 164.9h5.6l-2.8 4.8z" class="n"/><path d="M194.5 165.8h5.6l-2.8 4.8z" class="n"/><path d="M196.0 167.9h5.6l-2.8 4.8z" class="n"/><path d="M196.0 167.6h5.6l-2.8 4.8z" class="n"/><path d="M196.7 168.1h5.6l-2.8 4.8z" class="n"/><path d="M197.1 165.0h5.6l-2.8 4.8z" class="n"/><path d="M197.8 165.5h5.6l-2.8 4.8z" class="n"/><path d="M197.7 164.2h5.6l-2.8 4.8z" class="n"/><path d="M198.7 164.0h5.6l-2.8 4.8z" class="n"/><path d="M198.3 168.1h5.6l-2.8 4.8z" class="n"/><path d="M200.1 166.6h5.6l-2.8 4.8z" class="n"/><path d="M200.0 167.7h5.6l-2.8 4.8z" class="n"/><path d="M200.2 166.7h5.6l-2.8 4.8z" class="n"/><path d="M200.5 166.8h5.6l-2.8 4.8z" class="n"/><path d="M201.7 167.9h5.6l-2.8 4.8z" class="n"/><path d="M201.8 164.9h5.6l-2.8 4.8z" class="n"/><path d="M202.6 168.0h5.6l-2.8 4.8z" class="n"/><path d="M202.5 165.1h5.6l-2.8 4.8z" class="n"/><path d="M203.3 166.4h5.6l-2.8 4.8z" class="n"/><path d="M204.2 166.0h5.6l-2.8 4.8z" class="n"/><path d="M204.7 166.1h5.6l-2.8 4.8z" class="n"/><path d="M204.3 164.3h5.6l-2.8 4.8z" class="n"/><path d="M205.5 165.5h5.6l-2.8 4.8z" class="n"/><path d="M205.5 164.8h5.6l-2.8 4.8z" class="n"/><path d="M206.7 167.4h5.6l-2.8 4.8z" class="n"/><path d="M206.8 166.2h5.6l-2.8 4.8z" class="n"/><path d="M207.4 166.8h5.6l-2.8 4.8z" class="n"/><path d="M207.7 166.1h5.6l-2.8 4.8z" class="n"/><path d="M208.7 165.0h5.6l-2.8 4.8z" class="n"/><path d="M208.4 164.6h5.6l-2.8 4.8z" class="n"/><path d="M209.6 166.2h5.6l-2.8 4.8z" class="n"/><path d="M209.2 165.2h5.6l-2.8 4.8z" class="n"/><path d="M210.4 166.0h5.6l-2.8 4.8z" class="n"/><path d="M210.7 164.8h5.6l-2.8 4.8z" class="n"/><path d="M211.5 167.0h5.6l-2.8 4.8z" class="n"/><path d="M211.4 163.9h5.6l-2.8 4.8z" class="n"/><path d="M212.6 163.8h5.6l-2.8 4.8z" class="n"/><path d="M212.6 165.5h5.6l-2.8 4.8z" class="n"/><path d="M213.3 164.5h5.6l-2.8 4.8z" class="n"/><path d="M214.2 166.9h5.6l-2.8 4.8z" class="n"/><path d="M214.5 165.0h5.6l-2.8 4.8z" class="n"/><path d="M214.9 166.3h5.6l-2.8 4.8z" class="n"/><path d="M216.0 165.8h5.6l-2.8 4.8z" class="n"/><path d="M215.9 166.9h5.6l-2.8 4.8z" class="n"/><path d="M216.7 167.2h5.6l-2.8 4.8z" class="n"/><path d="M216.9 167.9h5.6l-2.8 4.8z" class="n"/><path d="M218.1 162.9h5.6l-2.8 4.8z" class="n"/><path d="M218.0 166.1h5.6l-2.8 4.8z" class="n"/><path d="M219.2 166.0h5.6l-2.8 4.8z" class="n"/><path d="M218.6 167.2h5.6l-2.8 4.8z" class="n"/><path d="M219.8 164.8h5.6l-2.8 4.8z" class="n"/><path d="M220.7 166.8h5.6l-2.8 4.8z" class="n"/><path d="M220.5 164.8h5.6l-2.8 4.8z" class="n"/><path d="M221.6 164.3h5.6l-2.8 4.8z" class="n"/><path d="M222.0 167.6h5.6l-2.8 4.8z" class="n"/><path d="M222.6 163.3h5.6l-2.8 4.8z" class="n"/><path d="M222.5 163.0h5.6l-2.8 4.8z" class="n"/><path d="M223.8 162.5h5.6l-2.8 4.8z" class="n"/><path d="M224.1 164.0h5.6l-2.8 4.8z" class="n"/><path d="M225.0 168.3h5.6l-2.8 4.8z" class="n"/><path d="M225.6 168.0h5.6l-2.8 4.8z" class="n"/><path d="M225.2 161.9h5.6l-2.8 4.8z" class="n"/><path d="M226.7 168.0h5.6l-2.8 4.8z" class="n"/><path d="M227.0 165.2h5.6l-2.8 4.8z" class="n"/><path d="M227.7 165.0h5.6l-2.8 4.8z" class="n"/><path d="M228.6 163.7h5.6l-2.8 4.8z" class="n"/><path d="M229.6 168.3h5.6l-2.8 4.8z" class="n"/><path d="M230.7 161.4h5.6l-2.8 4.8z" class="n"/><path d="M231.6 165.1h5.6l-2.8 4.8z" class="n"/><path d="M231.8 167.7h5.6l-2.8 4.8z" class="n"/><path d="M232.7 164.0h5.6l-2.8 4.8z" class="n"/><path d="M234.2 163.0h5.6l-2.8 4.8z" class="n"/><path d="M235.0 161.5h5.6l-2.8 4.8z" class="n"/><path d="M236.2 166.9h5.6l-2.8 4.8z" class="n"/><path d="M235.7 161.0h5.6l-2.8 4.8z" class="n"/><path d="M236.9 166.8h5.6l-2.8 4.8z" class="n"/><path d="M238.1 163.4h5.6l-2.8 4.8z" class="n"/><path d="M238.5 164.2h5.6l-2.8 4.8z" class="n"/><path d="M238.7 161.5h5.6l-2.8 4.8z" class="n"/><path d="M239.8 165.0h5.6l-2.8 4.8z" class="n"/><path d="M239.6 168.2h5.6l-2.8 4.8z" class="n"/><path d="M240.2 163.4h5.6l-2.8 4.8z" class="n"/><path d="M241.5 165.7h5.6l-2.8 4.8z" class="n"/><path d="M242.5 167.0h5.6l-2.8 4.8z" class="n"/><path d="M242.8 165.5h5.6l-2.8 4.8z" class="n"/><path d="M243.7 164.5h5.6l-2.8 4.8z" class="n"/><path d="M243.5 165.3h5.6l-2.8 4.8z" class="n"/><path d="M245.2 164.7h5.6l-2.8 4.8z" class="n"/><path d="M245.3 161.2h5.6l-2.8 4.8z" class="n"/><path d="M246.0 160.8h5.6l-2.8 4.8z" class="n"/><path d="M246.4 164.3h5.6l-2.8 4.8z" class="n"/><path d="M247.0 165.0h5.6l-2.8 4.8z" class="n"/><path d="M247.3 160.0h5.6l-2.8 4.8z" class="n"/><path d="M248.5 165.9h5.6l-2.8 4.8z" class="n"/><path d="M249.4 162.1h5.6l-2.8 4.8z" class="n"/><path d="M249.3 167.5h5.6l-2.8 4.8z" class="n"/><path d="M250.5 163.7h5.6l-2.8 4.8z" class="n"/><path d="M251.3 167.4h5.6l-2.8 4.8z" class="n"/><path d="M251.8 168.0h5.6l-2.8 4.8z" class="n"/><path d="M252.8 162.0h5.6l-2.8 4.8z" class="n"/><path d="M252.2 167.7h5.6l-2.8 4.8z" class="n"/><path d="M253.5 167.5h5.6l-2.8 4.8z" class="n"/><path d="M254.5 165.0h5.6l-2.8 4.8z" class="n"/><path d="M255.7 167.9h5.6l-2.8 4.8z" class="n"/><path d="M256.6 165.9h5.6l-2.8 4.8z" class="n"/><path d="M256.4 162.5h5.6l-2.8 4.8z" class="n"/><path d="M257.7 166.6h5.6l-2.8 4.8z" class="n"/><path d="M258.4 162.9h5.6l-2.8 4.8z" class="n"/><path d="M258.4 168.1h5.6l-2.8 4.8z" class="n"/><path d="M259.8 160.9h5.6l-2.8 4.8z" class="n"/><path d="M259.7 163.1h5.6l-2.8 4.8z" class="n"/><path d="M260.3 160.9h5.6l-2.8 4.8z" class="n"/><path d="M261.0 162.9h5.6l-2.8 4.8z" class="n"/><path d="M261.4 162.3h5.6l-2.8 4.8z" class="n"/><path d="M261.4 160.2h5.6l-2.8 4.8z" class="n"/><path d="M262.5 161.2h5.6l-2.8 4.8z" class="n"/><path d="M263.3 162.2h5.6l-2.8 4.8z" class="n"/><path d="M264.3 163.6h5.6l-2.8 4.8z" class="n"/><path d="M266.0 161.2h5.6l-2.8 4.8z" class="n"/><path d="M266.9 163.1h5.6l-2.8 4.8z" class="n"/><path d="M267.2 161.6h5.6l-2.8 4.8z" class="n"/><path d="M267.7 161.8h5.6l-2.8 4.8z" class="n"/><path d="M268.3 165.8h5.6l-2.8 4.8z" class="n"/><path d="M270.1 164.8h5.6l-2.8 4.8z" class="n"/><path d="M269.6 162.0h5.6l-2.8 4.8z" class="n"/><path d="M270.4 167.2h5.6l-2.8 4.8z" class="n"/><path d="M271.7 164.5h5.6l-2.8 4.8z" class="n"/><path d="M271.5 166.4h5.6l-2.8 4.8z" class="n"/><path d="M272.9 164.7h5.6l-2.8 4.8z" class="n"/><path d="M273.6 160.6h5.6l-2.8 4.8z" class="n"/><path d="M275.1 162.6h5.6l-2.8 4.8z" class="n"/><path d="M274.9 160.8h5.6l-2.8 4.8z" class="n"/><path d="M275.6 164.1h5.6l-2.8 4.8z" class="n"/><path d="M276.3 162.5h5.6l-2.8 4.8z" class="n"/><path d="M277.3 165.9h5.6l-2.8 4.8z" class="n"/><path d="M278.6 167.5h5.6l-2.8 4.8z" class="n"/><path d="M280.1 167.0h5.6l-2.8 4.8z" class="n"/><path d="M280.5 160.3h5.6l-2.8 4.8z" class="n"/><path d="M280.9 165.4h5.6l-2.8 4.8z" class="n"/><path d="M281.6 165.4h5.6l-2.8 4.8z" class="n"/><path d="M282.4 166.9h5.6l-2.8 4.8z" class="n"/><path d="M283.8 161.6h5.6l-2.8 4.8z" class="n"/><path d="M285.1 165.9h5.6l-2.8 4.8z" class="n"/><path d="M285.2 160.6h5.6l-2.8 4.8z" class="n"/><path d="M286.4 162.6h5.6l-2.8 4.8z" class="n"/><path d="M287.2 162.7h5.6l-2.8 4.8z" class="n"/><path d="M288.4 166.6h5.6l-2.8 4.8z" class="n"/><path d="M289.9 162.3h5.6l-2.8 4.8z" class="n"/><path d="M290.9 163.0h5.6l-2.8 4.8z" class="n"/><path d="M292.0 166.1h5.6l-2.8 4.8z" class="n"/><path d="M292.2 166.6h5.6l-2.8 4.8z" class="n"/><circle cx="299.5" cy="377.5" r="2.75" class="d"/><circle cx="274.2" cy="402.0" r="2.75" class="d"/><circle cx="279.5" cy="406.6" r="2.75" class="d"/><circle cx="285.8" cy="398.2" r="2.75" class="d"/><circle cx="271.0" cy="396.8" r="2.75" class="d"/><circle cx="298.4" cy="385.2" r="2.75" class="d"/><circle cx="294.2" cy="391.5" r="2.75" class="d"/><circle cx="268.0" cy="405.0" r="2.75" class="d"/><circle cx="99.0" cy="396.0" r="2.75" class="d"/><circle cx="103.0" cy="401.0" r="2.75" class="d"/><circle cx="95.5" cy="395.5" r="2.75" class="d"/><circle cx="106.5" cy="381.5" r="2.75" class="d"/><circle cx="170.0" cy="433.2" r="2.75" class="d"/><circle cx="185.0" cy="438.0" r="2.75" class="d"/><circle cx="192.2" cy="444.0" r="2.75" class="d"/><circle cx="245.4" cy="455.4" r="2.75" class="d"/><circle cx="96.4" cy="391.8" r="2.75" class="d"/><circle cx="97.8" cy="398.1" r="2.75" class="d"/><circle cx="102.7" cy="401.6" r="2.75" class="d"/><circle cx="104.8" cy="380.6" r="2.75" class="d"/><circle cx="117.4" cy="407.2" r="2.75" class="d"/><circle cx="128.6" cy="407.9" r="2.75" class="d"/><circle cx="132.8" cy="407.9" r="2.75" class="d"/><circle cx="135.6" cy="405.1" r="2.75" class="d"/><circle cx="137.7" cy="407.2" r="2.75" class="d"/><circle cx="130.0" cy="390.4" r="2.75" class="d"/><circle cx="134.9" cy="385.5" r="2.75" class="d"/><circle cx="143.3" cy="406.5" r="2.75" class="d"/><circle cx="110.0" cy="396.0" r="2.75" class="d"/><circle cx="116.0" cy="392.0" r="2.75" class="d"/><circle cx="122.0" cy="398.0" r="2.75" class="d"/><circle cx="108.0" cy="405.0" r="2.75" class="d"/><circle cx="124.0" cy="405.0" r="2.75" class="d"/><circle cx="73.1" cy="383.1" r="2.75" class="d"/><circle cx="72.6" cy="387.6" r="2.75" class="d"/><circle cx="78.5" cy="385.1" r="2.75" class="d"/><circle cx="82.7" cy="385.5" r="2.75" class="d"/><circle cx="80.2" cy="388.5" r="2.75" class="d"/><circle cx="79.3" cy="392.7" r="2.75" class="d"/><circle cx="86.0" cy="387.6" r="2.75" class="d"/><circle cx="88.6" cy="395.2" r="2.75" class="d"/><circle cx="92.8" cy="393.5" r="2.75" class="d"/><circle cx="97.8" cy="394.4" r="2.75" class="d"/><circle cx="99.5" cy="399.4" r="2.75" class="d"/><circle cx="104.0" cy="401.9" r="2.75" class="d"/><circle cx="104.5" cy="380.1" r="2.75" class="d"/><circle cx="107.4" cy="380.4" r="2.75" class="d"/><circle cx="118.0" cy="407.0" r="2.75" class="d"/><circle cx="88.4" cy="415.7" r="2.75" class="d"/><circle cx="90.8" cy="425.1" r="2.75" class="d"/><circle cx="118.4" cy="407.5" r="2.75" class="d"/><circle cx="102.2" cy="402.4" r="2.75" class="d"/><circle cx="179.6" cy="370.3" r="2.75" class="d"/><circle cx="148.8" cy="441.7" r="2.75" class="d"/><circle cx="212.5" cy="428.0" r="2.75" class="d"/><circle cx="210.2" cy="462.7" r="2.75" class="d"/><circle cx="226.0" cy="451.0" r="2.75" class="d"/><circle cx="285.5" cy="377.0" r="2.75" class="d"/><circle cx="308.4" cy="384.5" r="2.75" class="d"/><circle cx="297.3" cy="385.4" r="2.75" class="d"/><circle cx="326.5" cy="390.4" r="2.75" class="d"/><circle cx="293.9" cy="392.1" r="2.75" class="d"/><circle cx="278.8" cy="405.5" r="2.75" class="d"/><circle cx="243.5" cy="420.0" r="2.75" class="d"/><circle cx="232.4" cy="439.2" r="2.75" class="d"/><circle cx="143.8" cy="399.5" r="2.75" class="d"/><circle cx="144.2" cy="394.7" r="2.75" class="d"/><circle cx="146.0" cy="410.7" r="2.75" class="d"/><circle cx="146.6" cy="402.3" r="2.75" class="d"/><circle cx="147.6" cy="396.4" r="2.75" class="d"/><circle cx="148.2" cy="407.5" r="2.75" class="d"/><circle cx="149.4" cy="404.0" r="2.75" class="d"/><circle cx="150.4" cy="397.6" r="2.75" class="d"/><circle cx="151.1" cy="411.1" r="2.75" class="d"/><circle cx="152.1" cy="402.5" r="2.75" class="d"/><circle cx="153.2" cy="405.5" r="2.75" class="d"/><circle cx="154.9" cy="402.4" r="2.75" class="d"/><circle cx="155.8" cy="396.8" r="2.75" class="d"/><circle cx="156.4" cy="394.1" r="2.75" class="d"/><circle cx="157.2" cy="398.8" r="2.75" class="d"/><circle cx="158.6" cy="406.7" r="2.75" class="d"/><circle cx="159.9" cy="410.6" r="2.75" class="d"/><circle cx="160.8" cy="394.4" r="2.75" class="d"/><circle cx="161.7" cy="397.9" r="2.75" class="d"/><circle cx="162.1" cy="404.3" r="2.75" class="d"/><circle cx="163.1" cy="392.8" r="2.75" class="d"/><circle cx="164.8" cy="396.4" r="2.75" class="d"/><circle cx="165.9" cy="402.8" r="2.75" class="d"/><circle cx="166.2" cy="406.3" r="2.75" class="d"/><circle cx="167.7" cy="400.6" r="2.75" class="d"/><circle cx="168.4" cy="410.5" r="2.75" class="d"/><circle cx="169.0" cy="405.0" r="2.75" class="d"/><circle cx="171.0" cy="396.4" r="2.75" class="d"/><circle cx="171.7" cy="399.7" r="2.75" class="d"/><circle cx="172.6" cy="407.2" r="2.75" class="d"/><circle cx="174.0" cy="392.3" r="2.75" class="d"/><circle cx="174.8" cy="405.1" r="2.75" class="d"/><circle cx="175.4" cy="401.5" r="2.75" class="d"/><circle cx="176.7" cy="396.3" r="2.75" class="d"/><circle cx="177.7" cy="403.0" r="2.75" class="d"/><circle cx="178.4" cy="399.5" r="2.75" class="d"/><circle cx="179.7" cy="407.2" r="2.75" class="d"/><circle cx="180.6" cy="395.9" r="2.75" class="d"/><circle cx="181.6" cy="410.8" r="2.75" class="d"/><circle cx="182.9" cy="399.6" r="2.75" class="d"/><circle cx="183.6" cy="390.9" r="2.75" class="d"/><circle cx="184.9" cy="402.5" r="2.75" class="d"/><circle cx="185.9" cy="408.2" r="2.75" class="d"/><circle cx="186.3" cy="395.8" r="2.75" class="d"/><circle cx="187.3" cy="404.8" r="2.75" class="d"/><circle cx="188.3" cy="409.2" r="2.75" class="d"/><circle cx="190.0" cy="396.8" r="2.75" class="d"/><circle cx="190.7" cy="402.6" r="2.75" class="d"/><circle cx="191.8" cy="400.3" r="2.75" class="d"/><circle cx="192.7" cy="405.9" r="2.75" class="d"/><circle cx="193.8" cy="397.3" r="2.75" class="d"/><circle cx="195.0" cy="403.4" r="2.75" class="d"/><circle cx="195.5" cy="408.1" r="2.75" class="d"/><circle cx="197.8" cy="394.9" r="2.75" class="d"/><circle cx="198.2" cy="413.3" r="2.75" class="d"/><circle cx="199.1" cy="398.4" r="2.75" class="d"/><circle cx="200.0" cy="404.9" r="2.75" class="d"/><circle cx="201.8" cy="402.5" r="2.75" class="d"/><circle cx="202.9" cy="397.3" r="2.75" class="d"/><circle cx="203.4" cy="410.9" r="2.75" class="d"/><circle cx="204.6" cy="408.1" r="2.75" class="d"/><circle cx="205.3" cy="403.7" r="2.75" class="d"/><circle cx="207.0" cy="398.2" r="2.75" class="d"/><circle cx="207.8" cy="410.3" r="2.75" class="d"/><circle cx="208.9" cy="400.4" r="2.75" class="d"/><circle cx="209.9" cy="412.7" r="2.75" class="d"/><circle cx="210.0" cy="397.7" r="2.75" class="d"/><circle cx="211.2" cy="408.9" r="2.75" class="d"/><circle cx="212.9" cy="414.9" r="2.75" class="d"/><circle cx="213.7" cy="396.3" r="2.75" class="d"/><circle cx="214.2" cy="403.5" r="2.75" class="d"/><circle cx="216.9" cy="397.7" r="2.75" class="d"/><circle cx="217.1" cy="404.5" r="2.75" class="d"/><circle cx="218.7" cy="407.4" r="2.75" class="d"/><circle cx="219.2" cy="411.6" r="2.75" class="d"/><circle cx="220.7" cy="400.9" r="2.75" class="d"/><circle cx="221.0" cy="405.9" r="2.75" class="d"/><circle cx="222.5" cy="412.0" r="2.75" class="d"/><circle cx="223.4" cy="400.3" r="2.75" class="d"/><circle cx="224.1" cy="414.3" r="2.75" class="d"/><circle cx="225.6" cy="411.4" r="2.75" class="d"/><circle cx="226.2" cy="401.7" r="2.75" class="d"/><circle cx="227.8" cy="409.4" r="2.75" class="d"/><circle cx="228.3" cy="406.0" r="2.75" class="d"/><circle cx="229.3" cy="415.6" r="2.75" class="d"/><circle cx="231.0" cy="396.8" r="2.75" class="d"/><circle cx="231.7" cy="399.3" r="2.75" class="d"/><circle cx="232.6" cy="405.4" r="2.75" class="d"/><circle cx="233.2" cy="408.3" r="2.75" class="d"/><circle cx="234.9" cy="402.7" r="2.75" class="d"/><circle cx="235.2" cy="395.0" r="2.75" class="d"/><circle cx="236.5" cy="400.1" r="2.75" class="d"/><circle cx="237.2" cy="408.3" r="2.75" class="d"/><circle cx="238.6" cy="412.2" r="2.75" class="d"/><circle cx="239.4" cy="406.4" r="2.75" class="d"/><circle cx="240.1" cy="397.6" r="2.75" class="d"/><circle cx="241.8" cy="404.6" r="2.75" class="d"/><circle cx="242.8" cy="409.4" r="2.75" class="d"/><circle cx="243.5" cy="401.5" r="2.75" class="d"/><circle cx="244.6" cy="396.1" r="2.75" class="d"/><circle cx="245.7" cy="398.8" r="2.75" class="d"/><circle cx="246.1" cy="406.7" r="2.75" class="d"/><circle cx="247.2" cy="402.6" r="2.75" class="d"/><circle cx="248.6" cy="410.0" r="2.75" class="d"/><circle cx="249.4" cy="405.5" r="2.75" class="d"/><circle cx="251.3" cy="396.2" r="2.75" class="d"/><circle cx="252.5" cy="407.2" r="2.75" class="d"/><circle cx="253.0" cy="402.1" r="2.75" class="d"/><circle cx="254.9" cy="399.4" r="2.75" class="d"/><circle cx="255.7" cy="406.5" r="2.75" class="d"/><circle cx="256.0" cy="402.3" r="2.75" class="d"/><circle cx="257.1" cy="397.2" r="2.75" class="d"/><circle cx="258.8" cy="399.1" r="2.75" class="d"/><circle cx="259.1" cy="406.8" r="2.75" class="d"/><circle cx="260.5" cy="395.0" r="2.75" class="d"/><circle cx="262.0" cy="405.1" r="2.75" class="d"/><circle cx="262.1" cy="399.6" r="2.75" class="d"/><circle cx="264.4" cy="394.8" r="2.75" class="d"/><circle cx="265.9" cy="407.1" r="2.75" class="d"/><circle cx="266.1" cy="401.4" r="2.75" class="d"/><circle cx="267.8" cy="396.7" r="2.75" class="d"/><circle cx="269.6" cy="398.9" r="2.75" class="d"/><circle cx="275.9" cy="387.3" r="2.75" class="l"/><circle cx="278.8" cy="392.6" r="2.75" class="l"/><circle cx="271.0" cy="391.5" r="2.75" class="l"/><circle cx="278.4" cy="397.8" r="2.75" class="l"/><circle cx="283.0" cy="399.5" r="2.75" class="l"/><circle cx="285.8" cy="402.0" r="2.75" class="l"/><circle cx="275.3" cy="407.3" r="2.75" class="l"/><circle cx="271.0" cy="408.3" r="2.75" class="l"/><circle cx="292.7" cy="394.2" r="2.75" class="l"/><circle cx="293.7" cy="386.9" r="2.75" class="l"/><circle cx="298.4" cy="409.0" r="2.75" class="l"/><circle cx="279.5" cy="417.1" r="2.75" class="l"/><circle cx="268.0" cy="386.0" r="2.75" class="l"/><circle cx="267.0" cy="397.0" r="2.75" class="l"/><circle cx="273.0" cy="384.5" r="2.75" class="l"/><circle cx="121.6" cy="378.5" r="2.75" class="l"/><circle cx="130.7" cy="376.4" r="2.75" class="l"/><circle cx="135.6" cy="377.1" r="2.75" class="l"/><circle cx="98.5" cy="382.0" r="2.75" class="l"/><circle cx="100.6" cy="383.4" r="2.75" class="l"/><circle cx="107.6" cy="382.0" r="2.75" class="l"/><circle cx="104.1" cy="386.2" r="2.75" class="l"/><circle cx="99.2" cy="388.3" r="2.75" class="l"/><circle cx="109.0" cy="389.7" r="2.75" class="l"/><circle cx="118.1" cy="384.1" r="2.75" class="l"/><circle cx="114.6" cy="389.0" r="2.75" class="l"/><circle cx="123.7" cy="388.3" r="2.75" class="l"/><circle cx="132.1" cy="381.3" r="2.75" class="l"/><circle cx="139.1" cy="381.3" r="2.75" class="l"/><circle cx="143.3" cy="383.4" r="2.75" class="l"/><circle cx="137.0" cy="388.3" r="2.75" class="l"/><circle cx="142.6" cy="391.1" r="2.75" class="l"/><circle cx="103.4" cy="396.0" r="2.75" class="l"/><circle cx="114.6" cy="395.3" r="2.75" class="l"/><circle cx="119.5" cy="395.3" r="2.75" class="l"/><circle cx="124.4" cy="395.3" r="2.75" class="l"/><circle cx="132.8" cy="395.3" r="2.75" class="l"/><circle cx="139.8" cy="397.4" r="2.75" class="l"/><circle cx="110.4" cy="400.9" r="2.75" class="l"/><circle cx="119.5" cy="402.3" r="2.75" class="l"/><circle cx="125.1" cy="400.2" r="2.75" class="l"/><circle cx="128.6" cy="404.4" r="2.75" class="l"/><circle cx="141.9" cy="400.9" r="2.75" class="l"/><circle cx="126.0" cy="383.0" r="2.75" class="l"/><circle cx="120.0" cy="391.0" r="2.75" class="l"/><circle cx="128.0" cy="391.0" r="2.75" class="l"/><circle cx="134.0" cy="399.5" r="2.75" class="l"/><circle cx="113.0" cy="385.0" r="2.75" class="l"/><circle cx="73.8" cy="289.6" r="2.75" class="l"/><circle cx="72.3" cy="303.2" r="2.75" class="l"/><circle cx="82.2" cy="306.0" r="2.75" class="l"/><circle cx="90.8" cy="314.1" r="2.75" class="l"/><circle cx="107.1" cy="332.1" r="2.75" class="l"/><circle cx="79.3" cy="340.6" r="2.75" class="l"/><circle cx="99.0" cy="352.7" r="2.75" class="l"/><circle cx="108.4" cy="351.9" r="2.75" class="l"/><circle cx="73.1" cy="357.8" r="2.75" class="l"/><circle cx="118.5" cy="357.3" r="2.75" class="l"/><circle cx="119.7" cy="360.3" r="2.75" class="l"/><circle cx="79.8" cy="365.3" r="2.75" class="l"/><circle cx="78.8" cy="369.5" r="2.75" class="l"/><circle cx="86.0" cy="369.5" r="2.75" class="l"/><circle cx="88.9" cy="369.0" r="2.75" class="l"/><circle cx="88.6" cy="373.7" r="2.75" class="l"/><circle cx="93.3" cy="374.1" r="2.75" class="l"/><circle cx="108.4" cy="370.4" r="2.75" class="l"/><circle cx="108.4" cy="373.7" r="2.75" class="l"/><circle cx="78.5" cy="370.0" r="2.75" class="l"/><circle cx="88.6" cy="373.4" r="2.75" class="l"/><circle cx="93.3" cy="374.7" r="2.75" class="l"/><circle cx="87.7" cy="377.6" r="2.75" class="l"/><circle cx="108.7" cy="371.7" r="2.75" class="l"/><circle cx="93.6" cy="382.6" r="2.75" class="l"/><circle cx="97.8" cy="383.4" r="2.75" class="l"/><circle cx="100.3" cy="383.4" r="2.75" class="l"/><circle cx="96.1" cy="386.0" r="2.75" class="l"/><circle cx="100.0" cy="388.2" r="2.75" class="l"/><circle cx="104.5" cy="386.0" r="2.75" class="l"/><circle cx="107.9" cy="382.6" r="2.75" class="l"/><circle cx="110.4" cy="383.4" r="2.75" class="l"/><circle cx="108.7" cy="390.2" r="2.75" class="l"/><circle cx="113.8" cy="388.8" r="2.75" class="l"/><circle cx="118.0" cy="384.3" r="2.75" class="l"/><circle cx="88.6" cy="390.5" r="2.75" class="l"/><circle cx="103.4" cy="396.0" r="2.75" class="l"/><circle cx="106.2" cy="396.9" r="2.75" class="l"/><circle cx="110.4" cy="400.3" r="2.75" class="l"/><circle cx="114.6" cy="395.2" r="2.75" class="l"/><circle cx="118.0" cy="394.4" r="2.75" class="l"/><circle cx="118.8" cy="377.6" r="2.75" class="l"/><circle cx="179.6" cy="357.8" r="2.75" class="l"/><circle cx="130.2" cy="364.2" r="2.75" class="l"/><circle cx="118.4" cy="357.5" r="2.75" class="l"/><circle cx="120.1" cy="360.9" r="2.75" class="l"/><circle cx="125.5" cy="366.4" r="2.75" class="l"/><circle cx="123.4" cy="372.6" r="2.75" class="l"/><circle cx="127.6" cy="371.8" r="2.75" class="l"/><circle cx="131.8" cy="370.1" r="2.75" class="l"/><circle cx="136.9" cy="371.8" r="2.75" class="l"/><circle cx="148.3" cy="374.8" r="2.75" class="l"/><circle cx="120.9" cy="377.7" r="2.75" class="l"/><circle cx="131.0" cy="376.0" r="2.75" class="l"/><circle cx="135.2" cy="376.8" r="2.75" class="l"/><circle cx="139.4" cy="380.2" r="2.75" class="l"/><circle cx="154.5" cy="377.7" r="2.75" class="l"/><circle cx="110.0" cy="371.8" r="2.75" class="l"/><circle cx="148.7" cy="374.6" r="2.75" class="l"/><circle cx="158.7" cy="373.6" r="2.75" class="l"/><circle cx="201.4" cy="379.7" r="2.75" class="l"/><circle cx="149.0" cy="434.2" r="2.75" class="l"/><circle cx="169.8" cy="430.8" r="2.75" class="l"/><circle cx="184.6" cy="436.5" r="2.75" class="l"/><circle cx="191.7" cy="441.8" r="2.75" class="l"/><circle cx="210.2" cy="460.0" r="2.75" class="l"/><circle cx="226.0" cy="452.6" r="2.75" class="l"/><circle cx="170.5" cy="420.7" r="2.75" class="l"/><circle cx="185.6" cy="419.7" r="2.75" class="l"/><circle cx="207.5" cy="427.4" r="2.75" class="l"/><circle cx="217.6" cy="434.1" r="2.75" class="l"/><circle cx="228.3" cy="428.0" r="2.75" class="l"/><circle cx="168.8" cy="421.9" r="2.75" class="l"/><circle cx="168.8" cy="431.1" r="2.75" class="l"/><circle cx="251.2" cy="368.6" r="2.75" class="l"/><circle cx="261.3" cy="378.7" r="2.75" class="l"/><circle cx="284.8" cy="380.3" r="2.75" class="l"/><circle cx="299.6" cy="375.3" r="2.75" class="l"/><circle cx="308.4" cy="383.0" r="2.75" class="l"/><circle cx="293.9" cy="387.1" r="2.75" class="l"/><circle cx="326.5" cy="386.4" r="2.75" class="l"/><circle cx="292.2" cy="394.5" r="2.75" class="l"/><circle cx="285.5" cy="400.5" r="2.75" class="l"/><circle cx="274.7" cy="407.2" r="2.75" class="l"/><circle cx="298.3" cy="408.9" r="2.75" class="l"/><circle cx="279.5" cy="417.3" r="2.75" class="l"/><circle cx="264.3" cy="411.3" r="2.75" class="l"/><circle cx="229.0" cy="428.1" r="2.75" class="l"/><circle cx="231.0" cy="441.5" r="2.75" class="l"/><circle cx="245.2" cy="453.6" r="2.75" class="l"/><circle cx="225.0" cy="452.6" r="2.75" class="l"/><circle cx="143.4" cy="396.5" r="2.75" class="l"/><circle cx="143.0" cy="405.5" r="2.75" class="l"/><circle cx="144.8" cy="387.8" r="2.75" class="l"/><circle cx="145.1" cy="411.1" r="2.75" class="l"/><circle cx="145.3" cy="393.5" r="2.75" class="l"/><circle cx="146.5" cy="403.4" r="2.75" class="l"/><circle cx="146.6" cy="379.8" r="2.75" class="l"/><circle cx="147.5" cy="383.8" r="2.75" class="l"/><circle cx="147.4" cy="399.6" r="2.75" class="l"/><circle cx="148.9" cy="395.2" r="2.75" class="l"/><circle cx="148.2" cy="388.5" r="2.75" class="l"/><circle cx="149.3" cy="407.1" r="2.75" class="l"/><circle cx="151.0" cy="399.5" r="2.75" class="l"/><circle cx="150.9" cy="390.8" r="2.75" class="l"/><circle cx="151.8" cy="387.2" r="2.75" class="l"/><circle cx="151.9" cy="403.7" r="2.75" class="l"/><circle cx="152.4" cy="381.1" r="2.75" class="l"/><circle cx="153.0" cy="394.2" r="2.75" class="l"/><circle cx="153.5" cy="410.3" r="2.75" class="l"/><circle cx="154.9" cy="400.3" r="2.75" class="l"/><circle cx="154.6" cy="390.1" r="2.75" class="l"/><circle cx="155.4" cy="405.4" r="2.75" class="l"/><circle cx="156.0" cy="384.7" r="2.75" class="l"/><circle cx="156.6" cy="396.6" r="2.75" class="l"/><circle cx="157.1" cy="408.6" r="2.75" class="l"/><circle cx="157.8" cy="391.5" r="2.75" class="l"/><circle cx="158.6" cy="402.5" r="2.75" class="l"/><circle cx="158.5" cy="381.7" r="2.75" class="l"/><circle cx="159.7" cy="398.7" r="2.75" class="l"/><circle cx="159.4" cy="387.6" r="2.75" class="l"/><circle cx="161.0" cy="409.8" r="2.75" class="l"/><circle cx="160.1" cy="395.0" r="2.75" class="l"/><circle cx="161.6" cy="390.7" r="2.75" class="l"/><circle cx="161.3" cy="376.9" r="2.75" class="l"/><circle cx="162.1" cy="382.7" r="2.75" class="l"/><circle cx="162.9" cy="406.2" r="2.75" class="l"/><circle cx="162.8" cy="402.3" r="2.75" class="l"/><circle cx="163.0" cy="386.2" r="2.75" class="l"/><circle cx="164.9" cy="414.3" r="2.75" class="l"/><circle cx="164.5" cy="395.0" r="2.75" class="l"/><circle cx="165.3" cy="399.6" r="2.75" class="l"/><circle cx="165.8" cy="408.7" r="2.75" class="l"/><circle cx="165.9" cy="391.7" r="2.75" class="l"/><circle cx="167.0" cy="403.2" r="2.75" class="l"/><circle cx="166.8" cy="381.8" r="2.75" class="l"/><circle cx="167.8" cy="385.3" r="2.75" class="l"/><circle cx="168.6" cy="397.2" r="2.75" class="l"/><circle cx="168.9" cy="393.5" r="2.75" class="l"/><circle cx="169.2" cy="406.1" r="2.75" class="l"/><circle cx="169.7" cy="388.3" r="2.75" class="l"/><circle cx="170.9" cy="382.1" r="2.75" class="l"/><circle cx="170.4" cy="400.6" r="2.75" class="l"/><circle cx="171.6" cy="414.1" r="2.75" class="l"/><circle cx="171.4" cy="409.4" r="2.75" class="l"/><circle cx="172.6" cy="405.4" r="2.75" class="l"/><circle cx="172.6" cy="391.2" r="2.75" class="l"/><circle cx="173.7" cy="386.6" r="2.75" class="l"/><circle cx="173.5" cy="399.1" r="2.75" class="l"/><circle cx="174.7" cy="410.3" r="2.75" class="l"/><circle cx="174.9" cy="394.8" r="2.75" class="l"/><circle cx="175.9" cy="390.0" r="2.75" class="l"/><circle cx="175.2" cy="403.1" r="2.75" class="l"/><circle cx="175.8" cy="379.6" r="2.75" class="l"/><circle cx="177.0" cy="406.3" r="2.75" class="l"/><circle cx="176.5" cy="383.9" r="2.75" class="l"/><circle cx="177.8" cy="398.5" r="2.75" class="l"/><circle cx="177.6" cy="414.1" r="2.75" class="l"/><circle cx="178.6" cy="394.1" r="2.75" class="l"/><circle cx="178.1" cy="410.1" r="2.75" class="l"/><circle cx="179.3" cy="387.6" r="2.75" class="l"/><circle cx="179.1" cy="402.6" r="2.75" class="l"/><circle cx="180.2" cy="381.1" r="2.75" class="l"/><circle cx="180.6" cy="390.8" r="2.75" class="l"/><circle cx="181.7" cy="406.3" r="2.75" class="l"/><circle cx="181.4" cy="398.6" r="2.75" class="l"/><circle cx="182.6" cy="383.6" r="2.75" class="l"/><circle cx="182.5" cy="402.0" r="2.75" class="l"/><circle cx="183.9" cy="388.8" r="2.75" class="l"/><circle cx="183.7" cy="412.7" r="2.75" class="l"/><circle cx="184.7" cy="392.5" r="2.75" class="l"/><circle cx="185.1" cy="396.1" r="2.75" class="l"/><circle cx="185.7" cy="409.9" r="2.75" class="l"/><circle cx="186.0" cy="405.3" r="2.75" class="l"/><circle cx="186.3" cy="385.6" r="2.75" class="l"/><circle cx="187.8" cy="402.0" r="2.75" class="l"/><circle cx="187.2" cy="413.3" r="2.75" class="l"/><circle cx="187.9" cy="388.9" r="2.75" class="l"/><circle cx="189.0" cy="407.4" r="2.75" class="l"/><circle cx="188.8" cy="393.3" r="2.75" class="l"/><circle cx="189.9" cy="410.9" r="2.75" class="l"/><circle cx="189.5" cy="398.0" r="2.75" class="l"/><circle cx="191.8" cy="390.0" r="2.75" class="l"/><circle cx="191.7" cy="385.1" r="2.75" class="l"/><circle cx="192.9" cy="406.0" r="2.75" class="l"/><circle cx="192.6" cy="418.2" r="2.75" class="l"/><circle cx="193.9" cy="401.6" r="2.75" class="l"/><circle cx="193.2" cy="394.2" r="2.75" class="l"/><circle cx="194.9" cy="398.0" r="2.75" class="l"/><circle cx="194.0" cy="411.5" r="2.75" class="l"/><circle cx="195.5" cy="385.2" r="2.75" class="l"/><circle cx="195.8" cy="415.5" r="2.75" class="l"/><circle cx="196.3" cy="407.9" r="2.75" class="l"/><circle cx="196.3" cy="390.1" r="2.75" class="l"/><circle cx="197.3" cy="402.9" r="2.75" class="l"/><circle cx="197.6" cy="380.8" r="2.75" class="l"/><circle cx="198.4" cy="424.0" r="2.75" class="l"/><circle cx="198.4" cy="396.5" r="2.75" class="l"/><circle cx="198.5" cy="387.4" r="2.75" class="l"/><circle cx="199.1" cy="411.6" r="2.75" class="l"/><circle cx="199.5" cy="415.1" r="2.75" class="l"/><circle cx="201.0" cy="404.3" r="2.75" class="l"/><circle cx="200.1" cy="408.3" r="2.75" class="l"/><circle cx="200.2" cy="383.6" r="2.75" class="l"/><circle cx="201.4" cy="419.6" r="2.75" class="l"/><circle cx="201.9" cy="399.8" r="2.75" class="l"/><circle cx="201.6" cy="389.9" r="2.75" class="l"/><circle cx="203.0" cy="393.0" r="2.75" class="l"/><circle cx="202.4" cy="411.0" r="2.75" class="l"/><circle cx="203.8" cy="385.3" r="2.75" class="l"/><circle cx="203.7" cy="415.5" r="2.75" class="l"/><circle cx="205.0" cy="401.6" r="2.75" class="l"/><circle cx="204.7" cy="406.5" r="2.75" class="l"/><circle cx="205.3" cy="396.4" r="2.75" class="l"/><circle cx="206.4" cy="392.3" r="2.75" class="l"/><circle cx="206.5" cy="388.1" r="2.75" class="l"/><circle cx="206.2" cy="409.8" r="2.75" class="l"/><circle cx="207.7" cy="382.9" r="2.75" class="l"/><circle cx="207.7" cy="404.7" r="2.75" class="l"/><circle cx="208.5" cy="399.5" r="2.75" class="l"/><circle cx="209.0" cy="395.4" r="2.75" class="l"/><circle cx="209.5" cy="411.1" r="2.75" class="l"/><circle cx="210.9" cy="387.6" r="2.75" class="l"/><circle cx="210.3" cy="391.8" r="2.75" class="l"/><circle cx="212.0" cy="397.8" r="2.75" class="l"/><circle cx="211.0" cy="406.1" r="2.75" class="l"/><circle cx="212.0" cy="382.5" r="2.75" class="l"/><circle cx="212.4" cy="419.5" r="2.75" class="l"/><circle cx="213.7" cy="402.4" r="2.75" class="l"/><circle cx="213.8" cy="392.2" r="2.75" class="l"/><circle cx="214.6" cy="387.8" r="2.75" class="l"/><circle cx="215.0" cy="407.5" r="2.75" class="l"/><circle cx="215.2" cy="415.1" r="2.75" class="l"/><circle cx="215.5" cy="411.5" r="2.75" class="l"/><circle cx="217.0" cy="394.0" r="2.75" class="l"/><circle cx="216.8" cy="399.0" r="2.75" class="l"/><circle cx="217.5" cy="404.8" r="2.75" class="l"/><circle cx="217.5" cy="389.7" r="2.75" class="l"/><circle cx="218.5" cy="408.5" r="2.75" class="l"/><circle cx="219.5" cy="396.6" r="2.75" class="l"/><circle cx="219.6" cy="401.5" r="2.75" class="l"/><circle cx="220.4" cy="411.3" r="2.75" class="l"/><circle cx="221.0" cy="383.7" r="2.75" class="l"/><circle cx="221.3" cy="405.6" r="2.75" class="l"/><circle cx="221.8" cy="389.3" r="2.75" class="l"/><circle cx="222.9" cy="392.6" r="2.75" class="l"/><circle cx="222.5" cy="398.9" r="2.75" class="l"/><circle cx="223.4" cy="402.2" r="2.75" class="l"/><circle cx="224.1" cy="410.4" r="2.75" class="l"/><circle cx="225.0" cy="406.6" r="2.75" class="l"/><circle cx="225.2" cy="396.3" r="2.75" class="l"/><circle cx="225.8" cy="386.7" r="2.75" class="l"/><circle cx="226.6" cy="392.3" r="2.75" class="l"/><circle cx="226.0" cy="399.8" r="2.75" class="l"/><circle cx="227.6" cy="410.6" r="2.75" class="l"/><circle cx="227.6" cy="403.2" r="2.75" class="l"/><circle cx="228.6" cy="389.2" r="2.75" class="l"/><circle cx="228.8" cy="407.4" r="2.75" class="l"/><circle cx="230.0" cy="397.4" r="2.75" class="l"/><circle cx="229.9" cy="385.6" r="2.75" class="l"/><circle cx="230.8" cy="393.4" r="2.75" class="l"/><circle cx="231.9" cy="400.4" r="2.75" class="l"/><circle cx="231.8" cy="404.6" r="2.75" class="l"/><circle cx="232.7" cy="409.9" r="2.75" class="l"/><circle cx="233.0" cy="389.4" r="2.75" class="l"/><circle cx="233.8" cy="396.5" r="2.75" class="l"/><circle cx="234.7" cy="402.4" r="2.75" class="l"/><circle cx="235.4" cy="406.6" r="2.75" class="l"/><circle cx="235.7" cy="393.7" r="2.75" class="l"/><circle cx="236.6" cy="389.3" r="2.75" class="l"/><circle cx="236.4" cy="411.0" r="2.75" class="l"/><circle cx="237.3" cy="397.7" r="2.75" class="l"/><circle cx="238.9" cy="392.1" r="2.75" class="l"/><circle cx="238.4" cy="403.6" r="2.75" class="l"/><circle cx="239.5" cy="386.7" r="2.75" class="l"/><circle cx="239.9" cy="410.3" r="2.75" class="l"/><circle cx="240.5" cy="399.6" r="2.75" class="l"/><circle cx="240.6" cy="406.3" r="2.75" class="l"/><circle cx="241.8" cy="394.7" r="2.75" class="l"/><circle cx="242.4" cy="402.9" r="2.75" class="l"/><circle cx="242.0" cy="389.3" r="2.75" class="l"/><circle cx="245.0" cy="391.1" r="2.75" class="l"/><circle cx="244.3" cy="399.3" r="2.75" class="l"/><circle cx="245.1" cy="396.0" r="2.75" class="l"/><circle cx="245.7" cy="405.4" r="2.75" class="l"/><circle cx="246.7" cy="401.9" r="2.75" class="l"/><circle cx="247.3" cy="387.9" r="2.75" class="l"/><circle cx="247.0" cy="408.8" r="2.75" class="l"/><circle cx="248.6" cy="395.9" r="2.75" class="l"/><circle cx="248.9" cy="391.2" r="2.75" class="l"/><circle cx="249.5" cy="399.6" r="2.75" class="l"/><circle cx="251.0" cy="404.2" r="2.75" class="l"/><circle cx="251.8" cy="384.6" r="2.75" class="l"/><circle cx="251.9" cy="388.1" r="2.75" class="l"/><circle cx="252.6" cy="393.4" r="2.75" class="l"/><circle cx="252.6" cy="397.2" r="2.75" class="l"/><circle cx="253.0" cy="400.9" r="2.75" class="l"/><circle cx="254.5" cy="406.2" r="2.75" class="l"/><circle cx="255.7" cy="389.7" r="2.75" class="l"/><circle cx="255.1" cy="385.6" r="2.75" class="l"/><circle cx="256.8" cy="401.3" r="2.75" class="l"/><circle cx="256.4" cy="393.6" r="2.75" class="l"/><circle cx="257.6" cy="397.3" r="2.75" class="l"/><circle cx="259.9" cy="387.0" r="2.75" class="l"/><circle cx="259.8" cy="391.2" r="2.75" class="l"/><circle cx="260.8" cy="403.6" r="2.75" class="l"/><circle cx="261.6" cy="399.6" r="2.75" class="l"/><circle cx="261.2" cy="395.1" r="2.75" class="l"/><circle cx="262.7" cy="407.9" r="2.75" class="l"/><circle cx="263.4" cy="392.4" r="2.75" class="l"/><circle cx="264.6" cy="404.0" r="2.75" class="l"/><circle cx="265.4" cy="400.6" r="2.75" class="l"/><circle cx="265.9" cy="389.7" r="2.75" class="l"/><circle cx="268.0" cy="404.4" r="2.75" class="l"/><circle cx="269.4" cy="400.7" r="2.75" class="l"/><circle cx="270.7" cy="397.2" r="2.75" class="l"/><circle cx="271.7" cy="404.6" r="2.75" class="l"/><circle cx="271.8" cy="388.1" r="2.75" class="l"/><rect x="250.6" y="17.6" width="81.6" height="41.6" fill="#fff" stroke="#5a5a5a" stroke-width="1.1"/><circle cx="267.0" cy="28.5" r="2.75" class="r"/><circle cx="267.0" cy="38.1" r="2.75" class="y"/><path d="M264.2 45.8h5.6l-2.8 4.8z" class="n"/><text x="281.6" y="31.6" class="lg">T vs [Si/Fe]</text><text x="281.6" y="41.4" class="lg">T vs [S/Fe]</text><text x="281.6" y="51.2" class="lg">T vs [Ni/Fe]</text><rect x="250.6" y="302.8" width="54.7" height="31.6" fill="#fff" stroke="#5a5a5a" stroke-width="1.1"/><circle cx="266.8" cy="314.0" r="2.75" class="d"/><circle cx="266.8" cy="323.7" r="2.75" class="l"/><text x="281.6" y="316.9" class="lg">Fe I</text><text x="281.6" y="326.6" class="lg">Fe II</text></svg></body></html>
